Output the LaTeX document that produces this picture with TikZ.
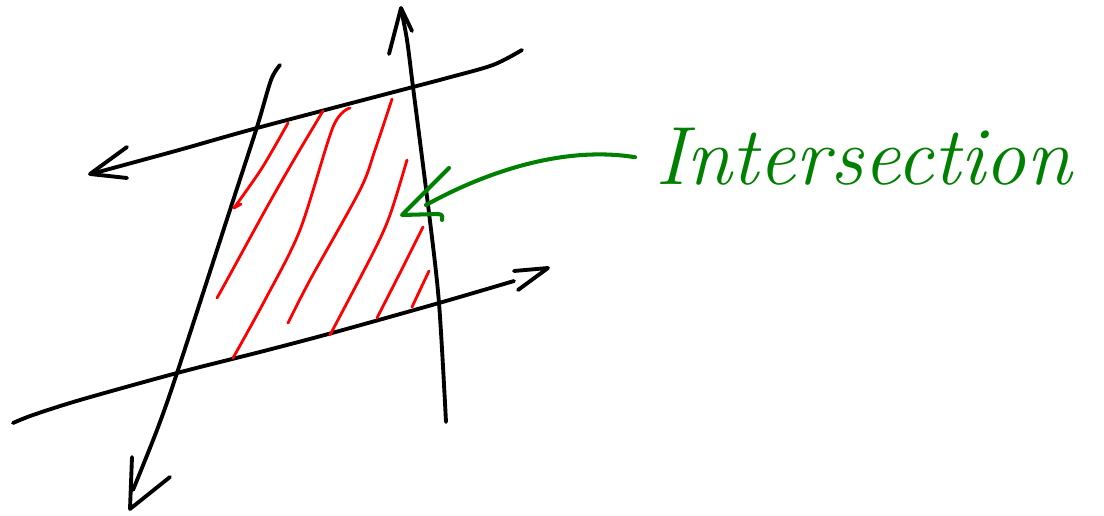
\documentclass[tikz,border=0pt]{standalone}
\usepackage{fontspec}
\usepackage{tikz}
\usetikzlibrary{positioning,calc}
\definecolor{penred}{RGB}{255,0,0}
\definecolor{pengreen}{RGB}{0,128,0}
\begin{document}
\begin{tikzpicture}[x=0.02cm,y=-0.02cm,line cap=round,line join=round]
\tikzstyle{blk}=[draw=black,line width=2.2pt]
\tikzstyle{hatch}=[draw=penred,line width=1.6pt]
\tikzstyle{grn}=[draw=pengreen,line width=2.3pt]
\useasboundingbox (0,0) rectangle (1104,516);
% the four sketched lines
\draw[blk] plot[smooth,tension=0.5] coordinates {(522,50) (493,65) (447,78) (413,87) (257,128) (179,150) (91,174)};
\draw[blk] (127,147) -- (90,174) -- (127,178);
\draw[blk] plot[smooth,tension=0.5] coordinates {(13,423) (33,415) (80,400) (177,373) (260,352) (332,333) (439,303) (514,281)};
\draw[blk] (514,271) -- (548,268) -- (518,290);
\draw[blk] plot[smooth,tension=0.5] coordinates {(280,65) (271,80) (257,127) (229,213) (177,373) (157,430) (133,490)};
\draw[blk] (132,457) -- (130,509) -- (170,477);
\draw[blk] plot[smooth,tension=0.5] coordinates {(446,422) (439,303) (429,213) (413,87) (407,40) (401,9)};
\draw[blk] (389,54) -- (401,8) -- (412,31);
% hatching of the intersection
\draw[hatch] plot[smooth] coordinates {(288,123) (262,168) (234,208)};
\draw[hatch] (234,208) -- (241,204);
\draw[hatch] plot[smooth] coordinates {(323,111) (295,158) (267,207) (227,280) (217,298)};
\draw[hatch] plot[smooth] coordinates {(350,108) (333,127) (300,230) (265,300) (233,358)};
\draw[hatch] plot[smooth] coordinates {(392,99) (375,150) (360,190) (310,280) (288,323)};
\draw[hatch] plot[smooth] coordinates {(407,160) (390,215) (373,253) (330,335)};
\draw[hatch] plot[smooth] coordinates {(423,227) (403,267) (377,318)};
\draw[hatch] (429,271) -- (412,307);
% label and pointer
\node[text=pengreen,anchor=base west,inner sep=0pt,font=\fontsize{47}{50}\selectfont\itshape] (lbl) at (655,185) {Intersection};
\coordinate (tip) at (426,205);
\draw[grn] ($(lbl.west)+(-20,0)$) coordinate (tail) .. controls (560,145) and (480,175) .. (tip);
\draw[grn] (449,168) -- (402,215) -- (438,214) .. controls (443,214) and (443,218) .. (442,220);
\end{tikzpicture}
\end{document}
